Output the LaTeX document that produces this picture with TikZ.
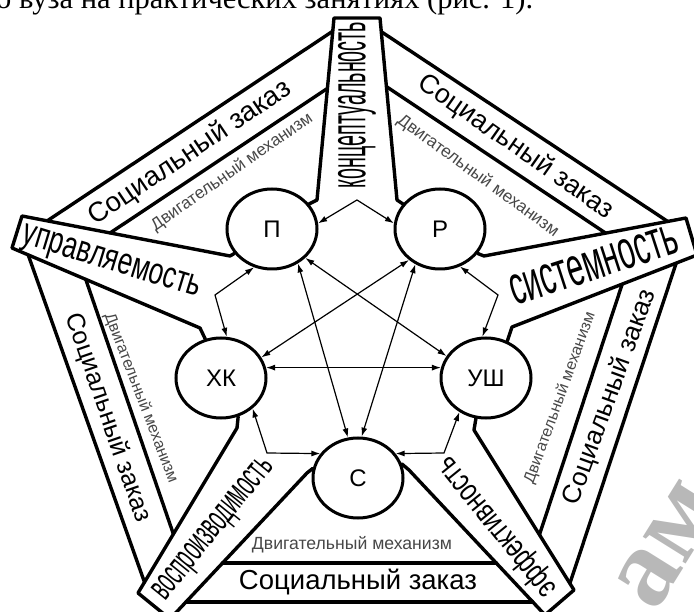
\documentclass[tikz,border=0pt]{standalone}
\usepackage{graphicx}
\usepackage{fontspec}
\setmainfont{Liberation Sans}
\newfontfamily\hdrfont{Liberation Serif}
\usetikzlibrary{shapes.geometric,arrows.meta}
\begin{document}
\begin{tikzpicture}[x=1pt,y=-1pt,
  outl/.style={line width=3.4pt, line join=round, line cap=round},
  circ/.style={draw, ellipse, line width=3pt, minimum width=90pt, minimum height=80pt, inner sep=0pt, font=\fontsize{24}{24}\selectfont},
  conn/.style={line width=1.2pt, {Latex[length=9pt,width=6pt]}-{Latex[length=9pt,width=6pt]}},
  sptxt/.style={inner sep=0pt},
  soc/.style={inner sep=0pt},
  dvig/.style={inner sep=0pt, text=black!72},
  wmark/.style={inner sep=0pt, text=black!28, font=\hdrfont\bfseries\fontsize{110}{110}\selectfont},
]
\useasboundingbox (0,0) rectangle (694,612);
\clip (0,0) rectangle (694,612);

% watermark fragment
\node[wmark, rotate=58] (wm) at (668,545) {ам};

% header line (cut off at top)
\node[anchor=base west, inner sep=0pt, font=\hdrfont\fontsize{29}{29}\selectfont] (hdr) at (-4,9)
  {\resizebox{537pt}{!}{о вуза на практических занятиях (рис. 1).}};

% circles
\node[circ, fill=white] (P)  at (272,229) {П};
\node[circ, fill=white] (R)  at (440,229) {Р};
\node[circ, fill=white] (XK) at (221,378) {ХК};
\node[circ, fill=white] (US) at (486,378) {УШ};
\node[circ, fill=white] (C)  at (358,478) {С};

% spoke corners and edge ends
\coordinate (TLc) at (334,18);  \coordinate (TLe) at (317,200);
\coordinate (TRc) at (380,18);  \coordinate (TRe) at (397,200);
\coordinate (URuc) at (686,218); \coordinate (URue) at (484,256);
\coordinate (URlc) at (697,255); \coordinate (URle) at (512,327);
\coordinate (LRrc) at (574,590); \coordinate (LRre) at (474,430);
\coordinate (LRlc) at (545,615); \coordinate (LRle) at (409,470);
\coordinate (LLuc) at (138,593); \coordinate (LLue) at (237,428);
\coordinate (LLlc) at (170,619); \coordinate (LLle) at (307,473);
\coordinate (ULuc) at (22,216);  \coordinate (ULue) at (230,256);
\coordinate (ULlc) at (12,248);  \coordinate (ULle) at (200,328);

% spokes
\draw[outl] (P.34) -- (TLe) -- (TLc) -- (TRc) -- (TRe) -- (R.146);
\draw[outl] (R.-33) -- (URue) -- (URuc) -- (URlc) -- (URle) -- (US.60);
\draw[outl] (US.-104) -- (LRre) -- (LRrc) -- (LRlc) -- (LRle) -- (C.18);
\draw[outl] (C.168) -- (LLle) -- (LLlc) -- (LLuc) -- (LLue) -- (XK.-66);
\draw[outl] (XK.112) -- (ULle) -- (ULlc) -- (ULuc) -- (ULue) -- (P.213);

% sector band lines
\coordinate (ULo1) at (53,217);  \coordinate (ULo2) at (333,31);
\coordinate (ULm1) at (110,233); \coordinate (ULm2) at (328,88);
\coordinate (URo1) at (424,60);  \coordinate (URo2) at (661,217);
\coordinate (URm1) at (387,87);  \coordinate (URm2) at (601,230);
\coordinate (Ro1) at (664,300);  \coordinate (Ro2) at (571,580);
\coordinate (Rm1) at (617,300);  \coordinate (Rm2) at (541,530);
\coordinate (Bo1) at (183,602);  \coordinate (Bo2) at (531,602);
\coordinate (Bm1) at (223,563);  \coordinate (Bm2) at (487,563);
\coordinate (Lo1) at (30,260);   \coordinate (Lo2) at (143,578);
\coordinate (Lm1) at (87,283);   \coordinate (Lm2) at (172,530);

\draw[outl] (intersection of ULo1--ULo2 and ULuc--ULue) -- (intersection of ULo1--ULo2 and TLc--TLe);
\draw[outl] (intersection of ULm1--ULm2 and ULuc--ULue) -- (intersection of ULm1--ULm2 and TLc--TLe);
\draw[outl] (intersection of URo1--URo2 and TRc--TRe) -- (intersection of URo1--URo2 and URuc--URue);
\draw[outl] (intersection of URm1--URm2 and TRc--TRe) -- (intersection of URm1--URm2 and URuc--URue);
\draw[outl] (intersection of Ro1--Ro2 and URlc--URle) -- (intersection of Ro1--Ro2 and LRrc--LRre);
\draw[outl] (intersection of Rm1--Rm2 and URlc--URle) -- (intersection of Rm1--Rm2 and LRrc--LRre);
\draw[outl] (intersection of Bo1--Bo2 and LLlc--LLle) -- (intersection of Bo1--Bo2 and LRlc--LRle);
\draw[outl] (intersection of Bm1--Bm2 and LLlc--LLle) -- (intersection of Bm1--Bm2 and LRlc--LRle);
\draw[outl] (intersection of Lo1--Lo2 and ULlc--ULle) -- (intersection of Lo1--Lo2 and LLuc--LLue);
\draw[outl] (intersection of Lm1--Lm2 and ULlc--ULle) -- (intersection of Lm1--Lm2 and LLuc--LLue);

% spoke texts
\node[sptxt, rotate=90]  (k1) at (357,105) {\resizebox*{166pt}{38pt}{концептуальность}};
\node[sptxt, rotate=-17] (k2) at (111,264) {\resizebox*{185pt}{28pt}{управляемость}};
\node[sptxt, rotate=18]  (k3) at (594,265) {\resizebox*{175pt}{30pt}{системность}};
\node[sptxt, rotate=129] (k4) at (497,527) {\resizebox*{171pt}{30pt}{эффективность}};
\node[sptxt, rotate=51]  (k5) at (215,530) {\resizebox*{173pt}{28pt}{воспроизводимость}};

% social order texts
\node[soc] (s1) at (358,582) {\resizebox{238pt}{!}{Социальный заказ}};
\node[soc, rotate=34]  (s2) at (190,153) {\resizebox{238pt}{!}{Социальный заказ}};
\node[soc, rotate=-35] (s3) at (516,147) {\resizebox{232pt}{!}{Социальный заказ}};
\node[soc, rotate=70]  (s4) at (610,397) {\resizebox{227pt}{!}{Социальный заказ}};
\node[soc, rotate=-71] (s5) at (108,418) {\resizebox{219pt}{!}{Социальный заказ}};

% motor mechanism texts
\node[dvig] (d1) at (352,545) {\resizebox{200pt}{!}{Двигательный механизм}};
\node[dvig, rotate=35]  (d2) at (232,172) {\resizebox{193pt}{!}{Двигательный механизм}};
\node[dvig, rotate=-36] (d3) at (478,176) {\resizebox{195pt}{!}{Двигательный механизм}};
\node[dvig, rotate=70]  (d4) at (560,398) {\resizebox{181pt}{!}{Двигательный механизм}};
\node[dvig, rotate=-69] (d5) at (141,398) {\resizebox{181pt}{!}{Двигательный механизм}};

% connectors
\coordinate (pk) at (357,200);
\coordinate (cPX) at (215,295);
\coordinate (cRU) at (498,295);
\coordinate (cXC) at (267,453);
\coordinate (cUC) at (444,453);
\draw[conn] (P.7) -- (pk) -- (R.173);
\draw[conn] (P.-115) -- (cPX) -- (XK.82);
\draw[conn] (R.-62) -- (cRU) -- (US.95);
\draw[conn] (XK.-44) -- (cXC) -- (C.147);
\draw[conn] (US.-128) -- (cUC) -- (C.33);
\draw[conn] (P.-41) -- (US.151);
\draw[conn] (R.-135) -- (XK.27);
\draw[conn] (XK.13) -- (US.167);
\draw[conn] (P.-53) -- (C.104);
\draw[conn] (R.-125) -- (C.85);
\end{tikzpicture}
\end{document}
